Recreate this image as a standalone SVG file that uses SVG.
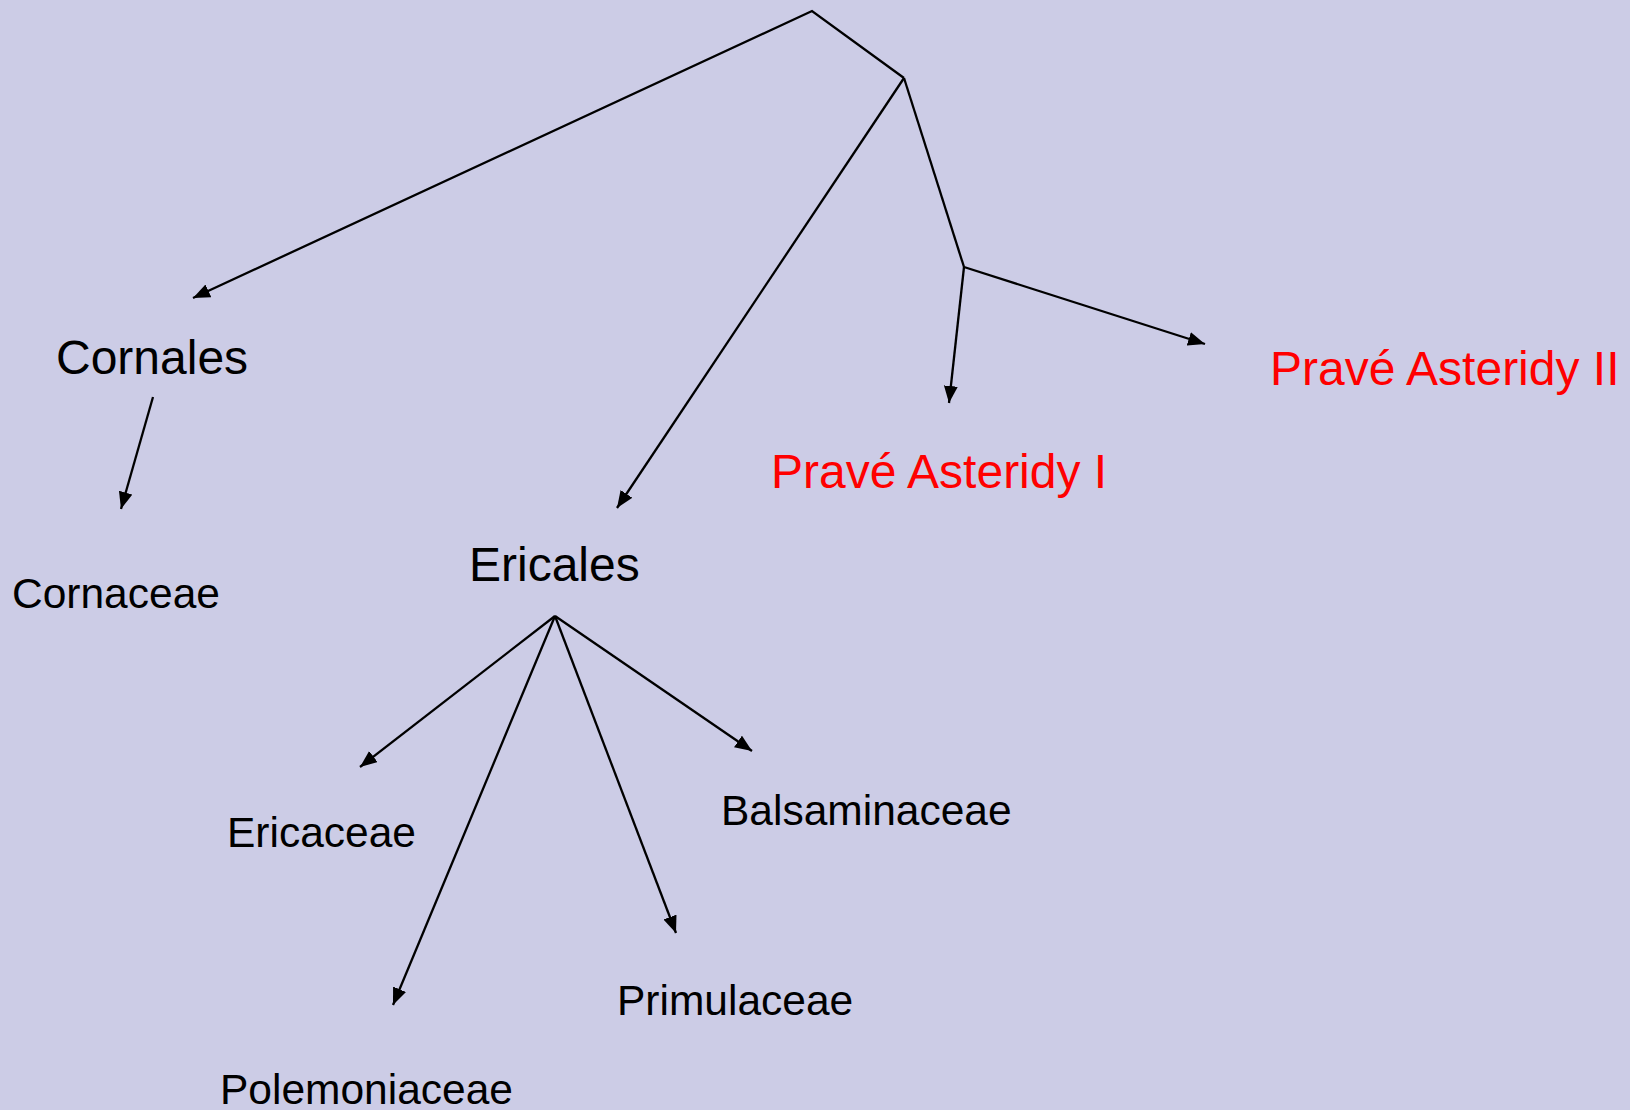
<svg xmlns="http://www.w3.org/2000/svg" width="1630" height="1110" viewBox="0 0 1630 1110">
<style>
.bg{fill:#CCCCE6}
.c{fill:none;stroke:#000;stroke-width:2.3;stroke-linejoin:miter}
.t{font-family:"Liberation Sans",Arial,sans-serif;fill:#000}
.big{font-size:48px}
.sm{font-size:42.5px}
.red{fill:#FF0000}
</style>
<defs>
<marker id="ah" markerUnits="userSpaceOnUse" markerWidth="19" markerHeight="15" refX="17" refY="7" orient="auto" viewBox="0 0 19 15">
<path d="M0,0 L17,7 L0,14 z" fill="#000"/>
</marker>
</defs>
<rect class="bg" x="0" y="0" width="1630" height="1110"/>
<g id="connectors">
<polyline class="c" points="904,78 812,11 193,298" marker-end="url(#ah)"/>
<line class="c" x1="904" y1="78" x2="617" y2="508" marker-end="url(#ah)"/>
<line class="c" x1="904" y1="78" x2="964" y2="267"/>
<line class="c" x1="964" y1="267" x2="949" y2="403" marker-end="url(#ah)"/>
<line class="c" x1="964" y1="267" x2="1205" y2="344" marker-end="url(#ah)"/>
<line class="c" x1="153" y1="397" x2="121" y2="509" marker-end="url(#ah)"/>
<line class="c" x1="555" y1="616" x2="360" y2="767" marker-end="url(#ah)"/>
<line class="c" x1="555" y1="616" x2="393" y2="1005" marker-end="url(#ah)"/>
<line class="c" x1="555" y1="616" x2="676" y2="933" marker-end="url(#ah)"/>
<line class="c" x1="555" y1="616" x2="752" y2="751" marker-end="url(#ah)"/>
</g>
<g id="cornales"><text class="t big" x="56" y="374">Cornales</text></g>
<g id="cornaceae"><text class="t sm" x="12" y="608">Cornaceae</text></g>
<g id="ericales"><text class="t big" x="469" y="581">Ericales</text></g>
<g id="prave-asteridy-1"><text class="t big red" x="771" y="488">Pravé Asteridy I</text></g>
<g id="prave-asteridy-2"><text class="t big red" x="1270" y="385">Pravé Asteridy II</text></g>
<g id="ericaceae"><text class="t sm" x="227" y="847">Ericaceae</text></g>
<g id="balsaminaceae"><text class="t sm" x="721" y="825">Balsaminaceae</text></g>
<g id="primulaceae"><text class="t sm" x="617" y="1015">Primulaceae</text></g>
<g id="polemoniaceae"><text class="t sm" x="220" y="1104">Polemoniaceae</text></g>
</svg>
